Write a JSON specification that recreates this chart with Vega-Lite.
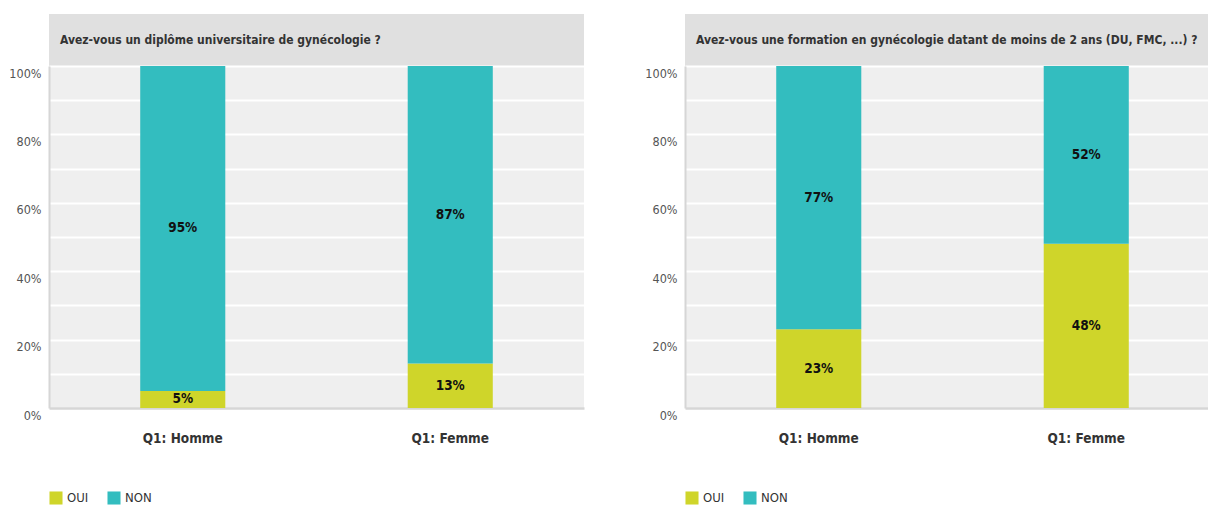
{
  "$schema": "https://vega.github.io/schema/vega-lite/v6.json",
  "padding": {"left": 8, "top": 14, "right": 0, "bottom": 0},
  "background": "white",
  "datasets": {
    "d": [
      {"q": "Q2", "sexe": "Q1: Homme", "rep": "OUI", "k": 1, "pct": 0.05},
      {"q": "Q2", "sexe": "Q1: Homme", "rep": "NON", "k": 2, "pct": 0.95},
      {"q": "Q2", "sexe": "Q1: Femme", "rep": "OUI", "k": 1, "pct": 0.13},
      {"q": "Q2", "sexe": "Q1: Femme", "rep": "NON", "k": 2, "pct": 0.87},
      {"q": "Q3", "sexe": "Q1: Homme", "rep": "OUI", "k": 1, "pct": 0.23},
      {"q": "Q3", "sexe": "Q1: Homme", "rep": "NON", "k": 2, "pct": 0.77},
      {"q": "Q3", "sexe": "Q1: Femme", "rep": "OUI", "k": 1, "pct": 0.48},
      {"q": "Q3", "sexe": "Q1: Femme", "rep": "NON", "k": 2, "pct": 0.52}
    ]
  },
  "config": {
    "font": "DejaVu Sans Condensed, sans-serif",
    "view": {"stroke": null},
    "axis": {"labelFont": "DejaVu Sans Condensed, sans-serif"},
    "legend": {"labelFont": "DejaVu Sans Condensed, sans-serif"}
  },
  "spacing": 60,
  "resolve": {"scale": {"color": "independent"}},
  "hconcat": [
    {
      "spacing": 0,
      "vconcat": [
        {
          "width": 535, "height": 52,
          "data": {"values": [{"t": "Avez-vous un diplôme universitaire de gynécologie ?"}]},
          "mark": {"type": "rect", "color": "#e0e0e0"},
          "encoding": {},
          "title": {"text": "Avez-vous un diplôme universitaire de gynécologie ?", "anchor": "start", "frame": "group", "orient": "top", "offset": -33, "dx": 11, "fontSize": 12, "fontWeight": "bold", "color": "#333", "font": "DejaVu Sans Condensed, sans-serif"}
        },
        {
          "width": 535, "height": 342,
          "data": {"name": "d"},
          "transform": [{"filter": "datum.q === 'Q2'"}],
          "view": {"fill": "#efefef", "stroke": null},
          "encoding": {
            "x": {"field": "sexe", "type": "nominal", "sort": ["Q1: Homme", "Q1: Femme"],
              "scale": {"paddingInner": 0.682, "paddingOuter": 0.341},
              "axis": {"title": null, "labelAngle": 0, "ticks": false, "domain": true, "domainColor": "#d6d6d6", "domainWidth": 2.5, "labelPadding": 23, "labelFontSize": 13.5, "labelFontWeight": "bold", "labelColor": "#333"}},
            "y": {"field": "pct", "type": "quantitative", "stack": "zero",
              "scale": {"domain": [0, 1], "nice": false},
              "axis": {"title": null, "values": [0, 0.1, 0.2, 0.3, 0.4, 0.5, 0.6, 0.7, 0.8, 0.9, 1], "format": ".0%", "labelExpr": "round(datum.value*100) % 20 === 0 ? datum.label : ''", "ticks": false, "domain": true, "domainColor": "#d6d6d6", "domainWidth": 2, "grid": true, "gridColor": "#ffffff", "gridWidth": 2, "labelPadding": 8, "labelOffset": 7, "labelFontSize": 12.5, "labelColor": "#555"}},
            "order": {"field": "k", "type": "quantitative"}
          },
          "layer": [
            {
              "mark": {"type": "bar"},
              "encoding": {
                "color": {"field": "rep", "type": "nominal",
                  "scale": {"domain": ["OUI", "NON"], "range": ["#cfd52a", "#33bdbf"]},
                  "legend": {"title": null, "orient": "bottom", "direction": "horizontal", "symbolType": "square", "symbolSize": 170, "symbolStrokeWidth": 0, "symbolOpacity": 1, "labelFontSize": 13, "labelColor": "#333", "offset": 46, "columnPadding": 18}}
              }
            },
            {
              "mark": {"type": "text", "fontSize": 13.5, "fontWeight": "bold", "color": "#111"},
              "encoding": {
                "y": {"field": "pct", "type": "quantitative", "stack": "zero", "bandPosition": 0.5},
                "detail": {"field": "rep"},
                "text": {"field": "pct", "type": "quantitative", "format": ".0%"}
              }
            }
          ]
        }
      ]
    },
    {
      "spacing": 0,
      "vconcat": [
        {
          "width": 535, "height": 52,
          "data": {"values": [{"t": "Avez-vous une formation en gynécologie datant de moins de 2 ans (DU, FMC, ...) ?"}]},
          "mark": {"type": "rect", "color": "#e0e0e0"},
          "encoding": {},
          "title": {"text": "Avez-vous une formation en gynécologie datant de moins de 2 ans (DU, FMC, ...) ?", "anchor": "start", "frame": "group", "orient": "top", "offset": -33, "dx": 11, "fontSize": 12, "fontWeight": "bold", "color": "#333", "font": "DejaVu Sans Condensed, sans-serif"}
        },
        {
          "width": 535, "height": 342,
          "data": {"name": "d"},
          "transform": [{"filter": "datum.q === 'Q3'"}],
          "view": {"fill": "#efefef", "stroke": null},
          "encoding": {
            "x": {"field": "sexe", "type": "nominal", "sort": ["Q1: Homme", "Q1: Femme"],
              "scale": {"paddingInner": 0.682, "paddingOuter": 0.341},
              "axis": {"title": null, "labelAngle": 0, "ticks": false, "domain": true, "domainColor": "#d6d6d6", "domainWidth": 2.5, "labelPadding": 23, "labelFontSize": 13.5, "labelFontWeight": "bold", "labelColor": "#333"}},
            "y": {"field": "pct", "type": "quantitative", "stack": "zero",
              "scale": {"domain": [0, 1], "nice": false},
              "axis": {"title": null, "values": [0, 0.1, 0.2, 0.3, 0.4, 0.5, 0.6, 0.7, 0.8, 0.9, 1], "format": ".0%", "labelExpr": "round(datum.value*100) % 20 === 0 ? datum.label : ''", "ticks": false, "domain": true, "domainColor": "#d6d6d6", "domainWidth": 2, "grid": true, "gridColor": "#ffffff", "gridWidth": 2, "labelPadding": 8, "labelOffset": 7, "labelFontSize": 12.5, "labelColor": "#555"}},
            "order": {"field": "k", "type": "quantitative"}
          },
          "layer": [
            {
              "mark": {"type": "bar"},
              "encoding": {
                "color": {"field": "rep", "type": "nominal",
                  "scale": {"domain": ["OUI", "NON"], "range": ["#cfd52a", "#33bdbf"]},
                  "legend": {"title": null, "orient": "bottom", "direction": "horizontal", "symbolType": "square", "symbolSize": 170, "symbolStrokeWidth": 0, "symbolOpacity": 1, "labelFontSize": 13, "labelColor": "#333", "offset": 46, "columnPadding": 18}}
              }
            },
            {
              "mark": {"type": "text", "fontSize": 13.5, "fontWeight": "bold", "color": "#111"},
              "encoding": {
                "y": {"field": "pct", "type": "quantitative", "stack": "zero", "bandPosition": 0.5},
                "detail": {"field": "rep"},
                "text": {"field": "pct", "type": "quantitative", "format": ".0%"}
              }
            }
          ]
        }
      ]
    }
  ]
}
